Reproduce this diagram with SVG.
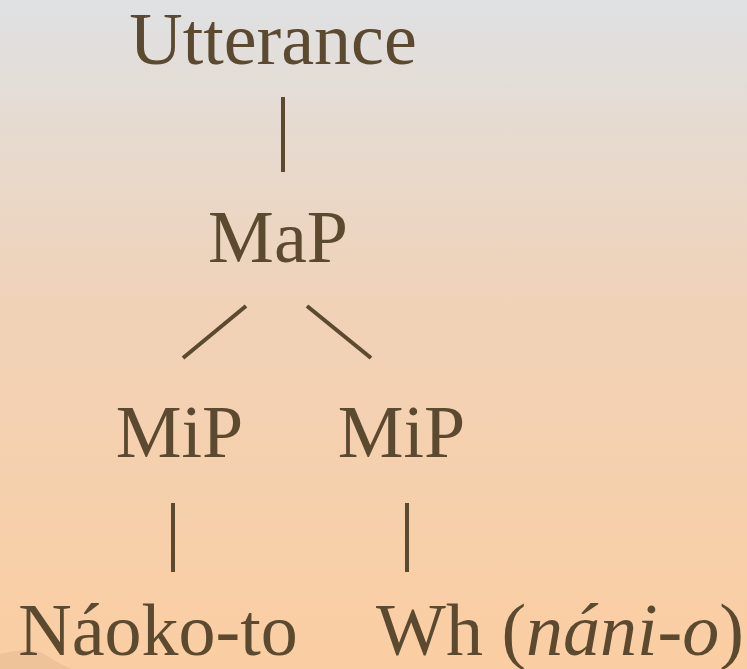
<svg xmlns="http://www.w3.org/2000/svg" width="747" height="669" viewBox="0 0 747 669">
<defs>
<linearGradient id="bg" x1="0" y1="0" x2="0" y2="1">
<stop offset="0" stop-color="#dfe1e3"/>
<stop offset="0.45" stop-color="#f0d2b8"/>
<stop offset="1" stop-color="#fbcea2"/>
</linearGradient>
<style>
text{font-family:"Liberation Serif","Times New Roman",serif;font-size:74px;fill:#5b4a2f;text-anchor:middle}
.c line{stroke:#5b4a2f;stroke-width:4;stroke-linecap:butt}
</style>
</defs>
<rect width="747" height="669" fill="url(#bg)"/>
<path d="M0,654 C15,650 30,649 40,652 C48,656 55,662 72,669 L0,669 Z" fill="#eec39a"/>
<g id="utterance"><text x="273" y="64">Utterance</text></g>
<g id="map"><text x="278" y="262">MaP</text></g>
<g id="mip1"><text x="179.5" y="457">MiP</text></g>
<g id="mip2"><text x="401.5" y="457">MiP</text></g>
<g id="naoko"><text x="158" y="655">Náoko-to</text></g>
<g id="wh"><text x="560" y="655">Wh (<tspan font-style="italic">náni-o</tspan>)</text></g>
<g class="c" id="connectors">
<line x1="283" y1="97" x2="283" y2="172"/>
<line x1="246" y1="306" x2="183" y2="358"/>
<line x1="307" y1="306" x2="371" y2="358"/>
<line x1="173" y1="503" x2="173" y2="572"/>
<line x1="407" y1="503" x2="407" y2="572"/>
</g>
</svg>
